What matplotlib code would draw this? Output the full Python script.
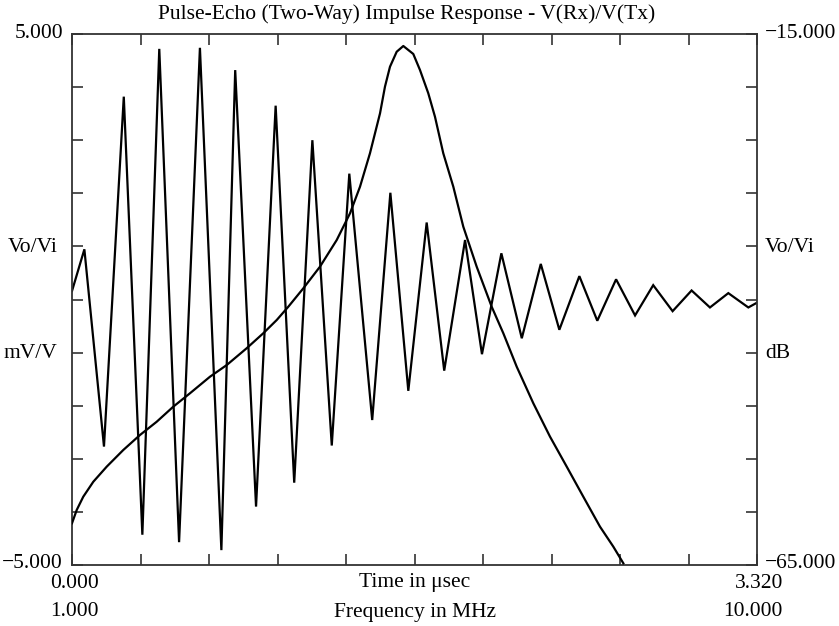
import matplotlib
matplotlib.use("Agg")
import matplotlib.pyplot as plt
import numpy as np

plt.rcParams['font.family'] = ['Liberation Serif', 'DejaVu Serif']

# Time-domain pulse-echo response (vertices of the trace)
time_us = [0.000, 0.060, 0.155, 0.251, 0.341, 0.423, 0.519, 0.620, 0.724, 0.791,
           0.892, 0.987, 1.077, 1.165, 1.259, 1.344, 1.455, 1.543, 1.630, 1.719,
           1.804, 1.905, 1.987, 2.081, 2.180, 2.272, 2.362, 2.459, 2.546, 2.637,
           2.729, 2.817, 2.911, 3.003, 3.092, 3.181, 3.278, 3.320]
volt_mv = [0.16, 0.945, -2.77, 3.82, -4.43, 4.72, -4.57, 4.74, -4.72, 4.32,
           -3.90, 3.65, -3.45, 3.00, -2.75, 2.37, -2.27, 2.01, -1.72, 1.45,
           -1.34, 1.12, -1.03, 0.87, -0.73, 0.67, -0.57, 0.44, -0.40, 0.38,
           -0.30, 0.27, -0.22, 0.17, -0.15, 0.12, -0.15, -0.06]

# Frequency response (dB)
freq_mhz = [1.000, 1.062, 1.148, 1.280, 1.456, 1.674, 1.893, 2.113, 2.331, 2.550,
            2.813, 3.033, 3.295, 3.513, 3.690, 3.842, 4.039, 4.258, 4.478, 4.653,
            4.784, 4.915, 5.047, 5.112, 5.178, 5.266, 5.353, 5.484, 5.572, 5.681,
            5.769, 5.878, 6.010, 6.141, 6.317, 6.514, 6.667, 6.843, 7.061, 7.280,
            7.500, 7.718, 7.937, 8.112, 8.244]
resp_db = [-61.07, -59.82, -58.57, -57.16, -55.74, -54.17, -52.76, -51.51, -50.09, -48.83,
           -47.27, -46.17, -44.59, -43.18, -41.93, -40.68, -38.95, -36.91, -34.40, -31.88,
           -29.38, -26.23, -22.47, -19.96, -18.08, -16.67, -16.13, -16.88, -18.39, -20.58,
           -22.79, -26.23, -29.38, -33.14, -36.91, -40.68, -43.18, -46.33, -49.77, -52.91,
           -55.74, -58.57, -61.39, -63.27, -64.84]

W, H = 839, 626
fig = plt.figure(figsize=(W / 100, H / 100), dpi=100)
L, R, T, B = 72, 757, 34, 565
pos = [L / W, 1 - B / H, (R - L) / W, (B - T) / H]

ax = fig.add_axes(pos)
ax2 = fig.add_axes(pos, frameon=False)

ax.set_xlim(0, 3.32)
ax.set_ylim(-5, 5)
ax2.set_xlim(1, 10)
ax2.set_ylim(-65, -15)

ax.plot(time_us, volt_mv, color='black', lw=1.6, solid_joinstyle='miter')
ax2.plot(freq_mhz, resp_db, color='black', lw=1.6, solid_joinstyle='round')

for s in ax.spines.values():
    s.set_color('#333333')
    s.set_linewidth(1.3)

ax.set_xticks(np.linspace(0, 3.32, 11))
ax.set_yticks(np.linspace(-5, 5, 11))
ax.tick_params(direction='in', length=8, width=1.2, color='#333333',
               top=True, bottom=True, left=True, right=True,
               labelbottom=False, labelleft=False)
ax2.set_xticks([])
ax2.set_yticks([])

fs = 15.5
def px(x, y, s, ha='left', va='center', size=fs):
    fig.text(x / W, 1 - y / H, s, ha=ha, va=va, fontsize=size)

px(407, 14, "Pulse-Echo (Two-Way) Impulse Response - V(Rx)/V(Tx)", ha='center', size=15.5)
px(63, 33, "5.000", ha='right')
px(63, 564, "\u22125.000", ha='right')
px(58, 247, "Vo/Vi", ha='right')
px(57, 353, "mV/V", ha='right')
px(765, 33, "\u221215.000")
px(765, 247, "Vo/Vi")
px(765, 353, "dB")
px(765, 563, "\u221265.000")
px(50, 583, "0.000")
px(783, 583, "3.320", ha='right')
px(415, 583, "Time in \u03bcsec", ha='center')
px(50, 612, "1.000")
px(783, 612, "10.000", ha='right')
px(415, 612, "Frequency in MHz", ha='center')

fig.savefig("out.png", dpi=100)
